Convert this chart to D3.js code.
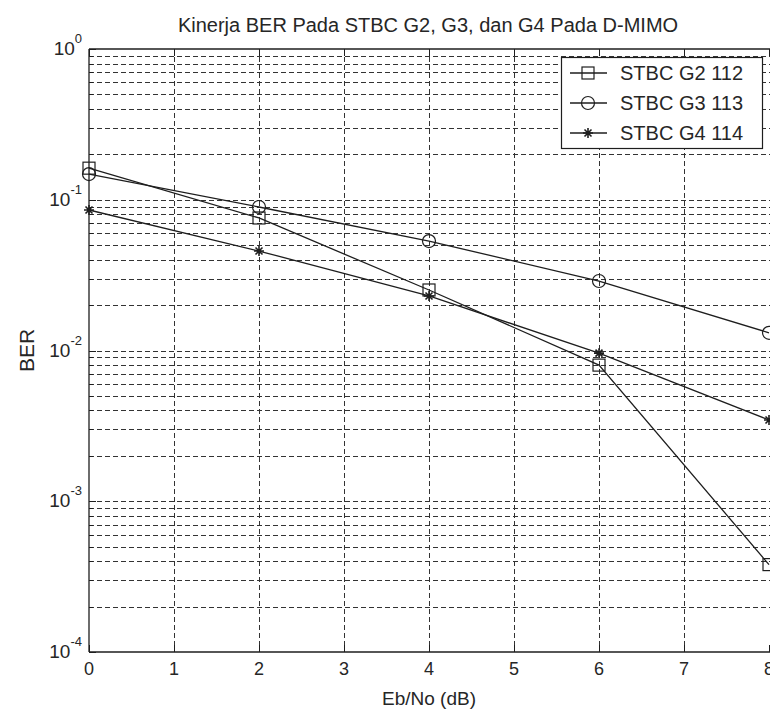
<!DOCTYPE html>
<html>
<head>
<meta charset="utf-8">
<script src="https://cdn.jsdelivr.net/npm/d3@7"></script>
<style>
  body { margin: 0; background: #fff; }
  svg { display: block; font-family: "Liberation Sans", Arial, sans-serif; }
</style>
</head>
<body>
<svg id="chart" width="770" height="715"></svg>
<script>
// Eb/No (dB) sample points and BER for each STBC code
const ebno = [0, 2, 4, 6, 8];
const berG2 = [0.162, 0.0757, 0.0252, 0.0080, 0.00038];
const berG3 = [0.148, 0.0895, 0.0532, 0.0289, 0.0131];
const berG4 = [0.0855, 0.0457, 0.0230, 0.0096, 0.00346];
const seriesNames = ["STBC G2 112", "STBC G3 113", "STBC G4 114"];
const markerTypes = ["square", "circle", "star"];
const xTicks = [0, 1, 2, 3, 4, 5, 6, 7, 8];
const yDecades = [1, 0.1, 0.01, 0.001, 0.0001];
const yExponents = ["0", "-1", "-2", "-3", "-4"];

const titleText = "Kinerja BER Pada STBC G2, G3, dan G4 Pada D-MIMO";
const xLabel = "Eb/No (dB)";
const yLabel = "BER";

(function () {
const svg = d3.select("#chart");
const pl = 89, pt = 49, pr = 769, pb = 652;
const ink = "#1e1e1e";
const gridInk = "#333";
const textFill = "#262626";

const x = d3.scaleLinear().domain([0, 8]).range([pl, pr]);
const y = d3.scaleLog().domain([1e-4, 1]).range([pb, pt]);

// minor log grid values (1..9 x 10^k)
const minorVals = [];
for (let k = -4; k < 0; k++) {
  for (let m = 1; m <= 9; m++) {
    const v = m * Math.pow(10, k);
    if (v > 1e-4 * 1.0001) minorVals.push(v);
  }
}

const grid = svg.append("g").attr("stroke", gridInk).attr("stroke-width", 1)
  .attr("stroke-dasharray", "5,3").attr("fill", "none");

grid.selectAll("line.h").data(minorVals).join("line")
  .attr("class", "h")
  .attr("x1", pl).attr("x2", 770)
  .attr("y1", d => Math.round(y(d)) + 0.5).attr("y2", d => Math.round(y(d)) + 0.5);

grid.selectAll("line.v").data(xTicks.filter(t => t > 0 && t < 8)).join("line")
  .attr("class", "v")
  .attr("x1", d => Math.round(x(d)) + 0.5).attr("x2", d => Math.round(x(d)) + 0.5)
  .attr("y1", pt).attr("y2", pb);

// axes frame (left, top, bottom)
const frame = svg.append("g").attr("stroke", ink).attr("stroke-width", 1.3);
frame.append("line").attr("x1", pl).attr("x2", pl).attr("y1", pt).attr("y2", pb);
frame.append("line").attr("x1", pl).attr("x2", 770).attr("y1", pt).attr("y2", pt);
frame.append("line").attr("x1", pl).attr("x2", 770).attr("y1", pb).attr("y2", pb);

// inward ticks
const ticks = svg.append("g").attr("stroke", ink).attr("stroke-width", 1);
ticks.selectAll("line.xb").data(xTicks).join("line").attr("class", "xb")
  .attr("x1", d => Math.round(x(d)) + 0.5).attr("x2", d => Math.round(x(d)) + 0.5)
  .attr("y1", pb).attr("y2", pb - 7);
ticks.selectAll("line.xt").data(xTicks).join("line").attr("class", "xt")
  .attr("x1", d => Math.round(x(d)) + 0.5).attr("x2", d => Math.round(x(d)) + 0.5)
  .attr("y1", pt).attr("y2", pt + 7);
ticks.selectAll("line.ym").data(minorVals).join("line").attr("class", "ym")
  .attr("x1", pl).attr("x2", pl + 4)
  .attr("y1", d => Math.round(y(d)) + 0.5).attr("y2", d => Math.round(y(d)) + 0.5);
ticks.selectAll("line.yd").data(yDecades).join("line").attr("class", "yd")
  .attr("x1", pl).attr("x2", pl + 7)
  .attr("y1", d => Math.round(y(d)) + 0.5).attr("y2", d => Math.round(y(d)) + 0.5);

// tick labels
svg.append("g").selectAll("text").data(xTicks).join("text")
  .attr("x", d => x(d)).attr("y", pb + 23)
  .attr("text-anchor", "middle").attr("font-size", 18).attr("fill", textFill)
  .text(d => d);

const yl = svg.append("g").selectAll("text").data(yDecades).join("text")
  .attr("x", pl - 7).attr("y", d => y(d) + 6)
  .attr("text-anchor", "end").attr("font-size", 19).attr("fill", textFill);
yl.append("tspan").text("10");
yl.append("tspan").attr("dy", -12).attr("font-size", 13).text((d, i) => yExponents[i]);

// title and axis labels
svg.append("text").attr("x", (pl + pr) / 2 - 1).attr("y", 32)
  .attr("text-anchor", "middle").attr("font-size", 20).attr("fill", textFill)
  .text(titleText);
svg.append("text").attr("x", (pl + pr) / 2).attr("y", 705)
  .attr("text-anchor", "middle").attr("font-size", 19).attr("fill", textFill)
  .text(xLabel);
svg.append("text").attr("transform", `translate(34,${(pt + pb) / 2}) rotate(-90)`)
  .attr("text-anchor", "middle").attr("font-size", 21).attr("fill", textFill)
  .text(yLabel);

// data series
const seriesData = [berG2, berG3, berG4];
const line = d3.line().x(d => x(d[0])).y(d => y(d[1]));

function drawMarker(g, type, cx, cy) {
  if (type === "square") {
    g.append("rect").attr("x", cx - 6).attr("y", cy - 6).attr("width", 12).attr("height", 12)
      .attr("fill", "none").attr("stroke", ink).attr("stroke-width", 1.2);
  } else if (type === "circle") {
    g.append("circle").attr("cx", cx).attr("cy", cy).attr("r", 6.5)
      .attr("fill", "none").attr("stroke", ink).attr("stroke-width", 1.2);
  } else {
    const s = 5;
    const p = `M${cx - s},${cy}H${cx + s}M${cx},${cy - s}V${cy + s}` +
      `M${cx - s * 0.7},${cy - s * 0.7}L${cx + s * 0.7},${cy + s * 0.7}` +
      `M${cx - s * 0.7},${cy + s * 0.7}L${cx + s * 0.7},${cy - s * 0.7}`;
    g.append("path").attr("d", p).attr("stroke", ink).attr("stroke-width", 1.6).attr("fill", "none");
  }
}

const plot = svg.append("g");
seriesData.forEach((vals, i) => {
  const pts = ebno.map((e, j) => [e, vals[j]]);
  plot.append("path").datum(pts).attr("d", line)
    .attr("fill", "none").attr("stroke", ink).attr("stroke-width", 1.3);
  pts.forEach(p => drawMarker(plot, markerTypes[i], x(p[0]), y(p[1])));
});

// legend
const lg = svg.append("g");
const lgX = 561, lgY = 57, lgW = 201, lgH = 91, rowH = 30;
lg.append("rect").attr("x", lgX + 0.5).attr("y", lgY + 0.5).attr("width", lgW).attr("height", lgH)
  .attr("fill", "#fff").attr("stroke", ink).attr("stroke-width", 1.2);
seriesNames.forEach((name, i) => {
  const cy = lgY + 16 + i * rowH;
  lg.append("line").attr("x1", lgX + 9).attr("x2", lgX + 46).attr("y1", cy).attr("y2", cy)
    .attr("stroke", ink).attr("stroke-width", 1.3);
  drawMarker(lg, markerTypes[i], lgX + 27, cy);
  lg.append("text").attr("x", lgX + 59).attr("y", cy + 7)
    .attr("font-size", 20).attr("fill", textFill).text(name);
});
})();
</script>
</body>
</html>
